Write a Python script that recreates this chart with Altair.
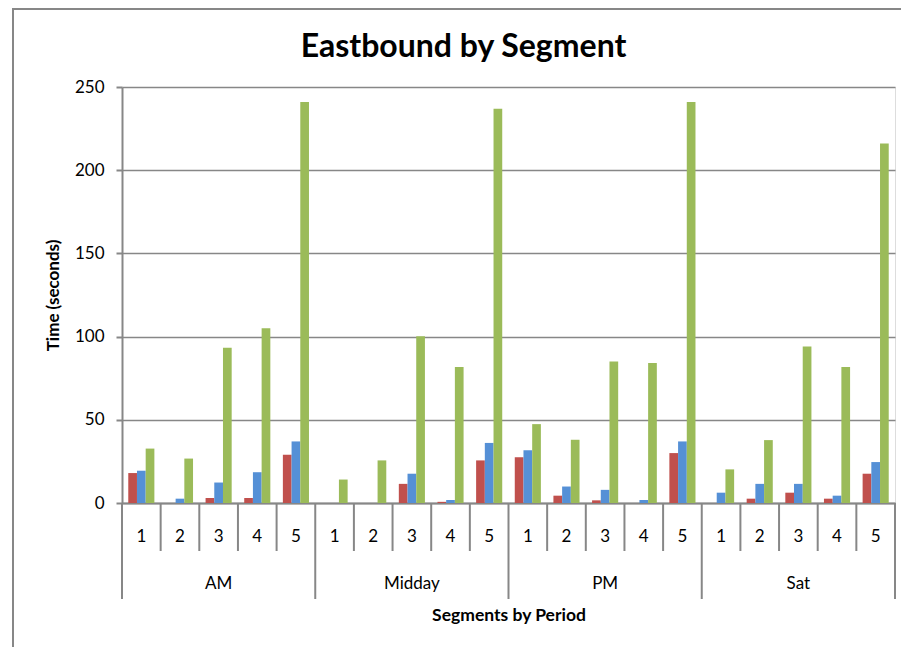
import altair as alt
import pandas as pd

periods = ["AM", "Midday", "PM", "Sat"]
segments = ["1", "2", "3", "4", "5"]
series_names = ["Series1", "Series2", "Series3"]
series_colors = ["#C0504D", "#5590D6", "#9BBB59"]

red_vals = [18, 0, 3, 3, 29,
            0, 0, 11.5, 0.7, 25.6,
            27.5, 4.4, 1.6, 0, 30,
            0, 2.6, 6.2, 2.6, 17.6]
blue_vals = [19.4, 2.6, 12.3, 18.5, 37,
             0, 0, 17.6, 1.8, 36.1,
             31.7, 9.9, 7.9, 1.8, 37,
             6.2, 11.5, 11.5, 4.4, 24.6]
green_vals = [32.7, 26.7, 93.3, 105, 241,
              14.1, 25.6, 100.2, 81.8, 237,
              47.4, 38, 85, 84.2, 241,
              20.2, 37.8, 94.1, 81.8, 216]

W, H = 773, 416
FONT = "Lato"
GRAY = "#878787"

keys = [f"{p}|{s}" for p in periods for s in segments]

rows = []
for vals, name in zip([red_vals, blue_vals, green_vals], series_names):
    for k, v in zip(keys, vals):
        p, s = k.split("|")
        rows.append({"key": k, "period": p, "segment": s, "series": name, "value": v})
df = pd.DataFrame(rows)

cat = pd.DataFrame({"key": keys,
                    "period": [k.split("|")[0] for k in keys],
                    "segment": [k.split("|")[1] for k in keys]})

xscale = alt.Scale(domain=keys, paddingInner=0, paddingOuter=0)
x_axis = alt.Axis(labels=False, ticks=False, domain=True, grid=False,
                  domainColor=GRAY, domainWidth=2,
                  title="Segments by Period", titleFont=FONT,
                  titleFontSize=17.5, titleFontWeight="bold",
                  titleColor="#000", titlePadding=103)


def xenc(bp):
    return alt.X("key:N", scale=xscale, sort=keys, bandPosition=bp, axis=x_axis)


bars = alt.Chart(df).mark_bar().encode(
    x=alt.X("key:N", scale=xscale, sort=keys, axis=x_axis),
    xOffset=alt.XOffset("series:N", sort=series_names,
                        scale=alt.Scale(paddingInner=0, paddingOuter=0.72)),
    y=alt.Y("value:Q", scale=alt.Scale(domain=[0, 250], nice=False),
            axis=alt.Axis(values=[0, 50, 100, 150, 200, 250], title="Time (seconds)",
                          titleFont=FONT, titleFontSize=17, titleFontWeight="bold",
                          titleColor="#000", titlePadding=12,
                          labelFont=FONT, labelFontSize=17, labelColor="#000",
                          labelPadding=12, tickSize=6, tickColor=GRAY, tickWidth=2,
                          domainColor=GRAY, domainWidth=2,
                          grid=True, gridColor=GRAY, gridWidth=1.6)),
    color=alt.Color("series:N", sort=series_names,
                    scale=alt.Scale(domain=series_names, range=series_colors),
                    legend=None),
)

short_ticks = alt.Chart(cat[cat["segment"] != "1"]).mark_rule(
    color=GRAY, strokeWidth=2).encode(
    x=xenc(0), y=alt.value(H), y2=alt.value(H + 48))

long_ticks = alt.Chart(cat[cat["segment"] == "1"]).mark_rule(
    color=GRAY, strokeWidth=2).encode(
    x=xenc(0), y=alt.value(H), y2=alt.value(H + 96))

end_tick = alt.Chart(cat[cat["key"] == keys[-1]]).mark_rule(
    color=GRAY, strokeWidth=2).encode(
    x=xenc(1), y=alt.value(H), y2=alt.value(H + 96))

seg_labels = alt.Chart(cat).mark_text(
    font=FONT, fontSize=17, color="#000", baseline="middle").encode(
    x=xenc(0.5), y=alt.value(H + 34), text="segment:N")

period_labels = alt.Chart(cat[cat["segment"] == "3"]).mark_text(
    font=FONT, fontSize=17, color="#000", baseline="middle").encode(
    x=xenc(0.5), y=alt.value(H + 81), text="period:N")

border = alt.Chart(pd.DataFrame({"b": [0]})).mark_rect(
    fillOpacity=0, stroke=GRAY, strokeWidth=2).encode(
    x=alt.value(-109), x2=alt.value(W + 60),
    y=alt.value(-78), y2=alt.value(H + 200))

chart = alt.layer(border, bars, short_ticks, long_ticks, end_tick,
                  seg_labels, period_labels).properties(
    width=W, height=H,
    autosize=alt.AutoSizeParams(type="none"),
    padding={"left": 114, "top": 79, "right": 6, "bottom": 144},
    title=alt.TitleParams("Eastbound by Segment", font=FONT, fontSize=32,
                          fontWeight="bold", color="#000", anchor="middle",
                          frame="group", dx=-45, dy=56, offset=0),
).configure_view(stroke=None).configure(background="white")

chart.save("out.html", embed_options={"renderer": "svg", "actions": False})
